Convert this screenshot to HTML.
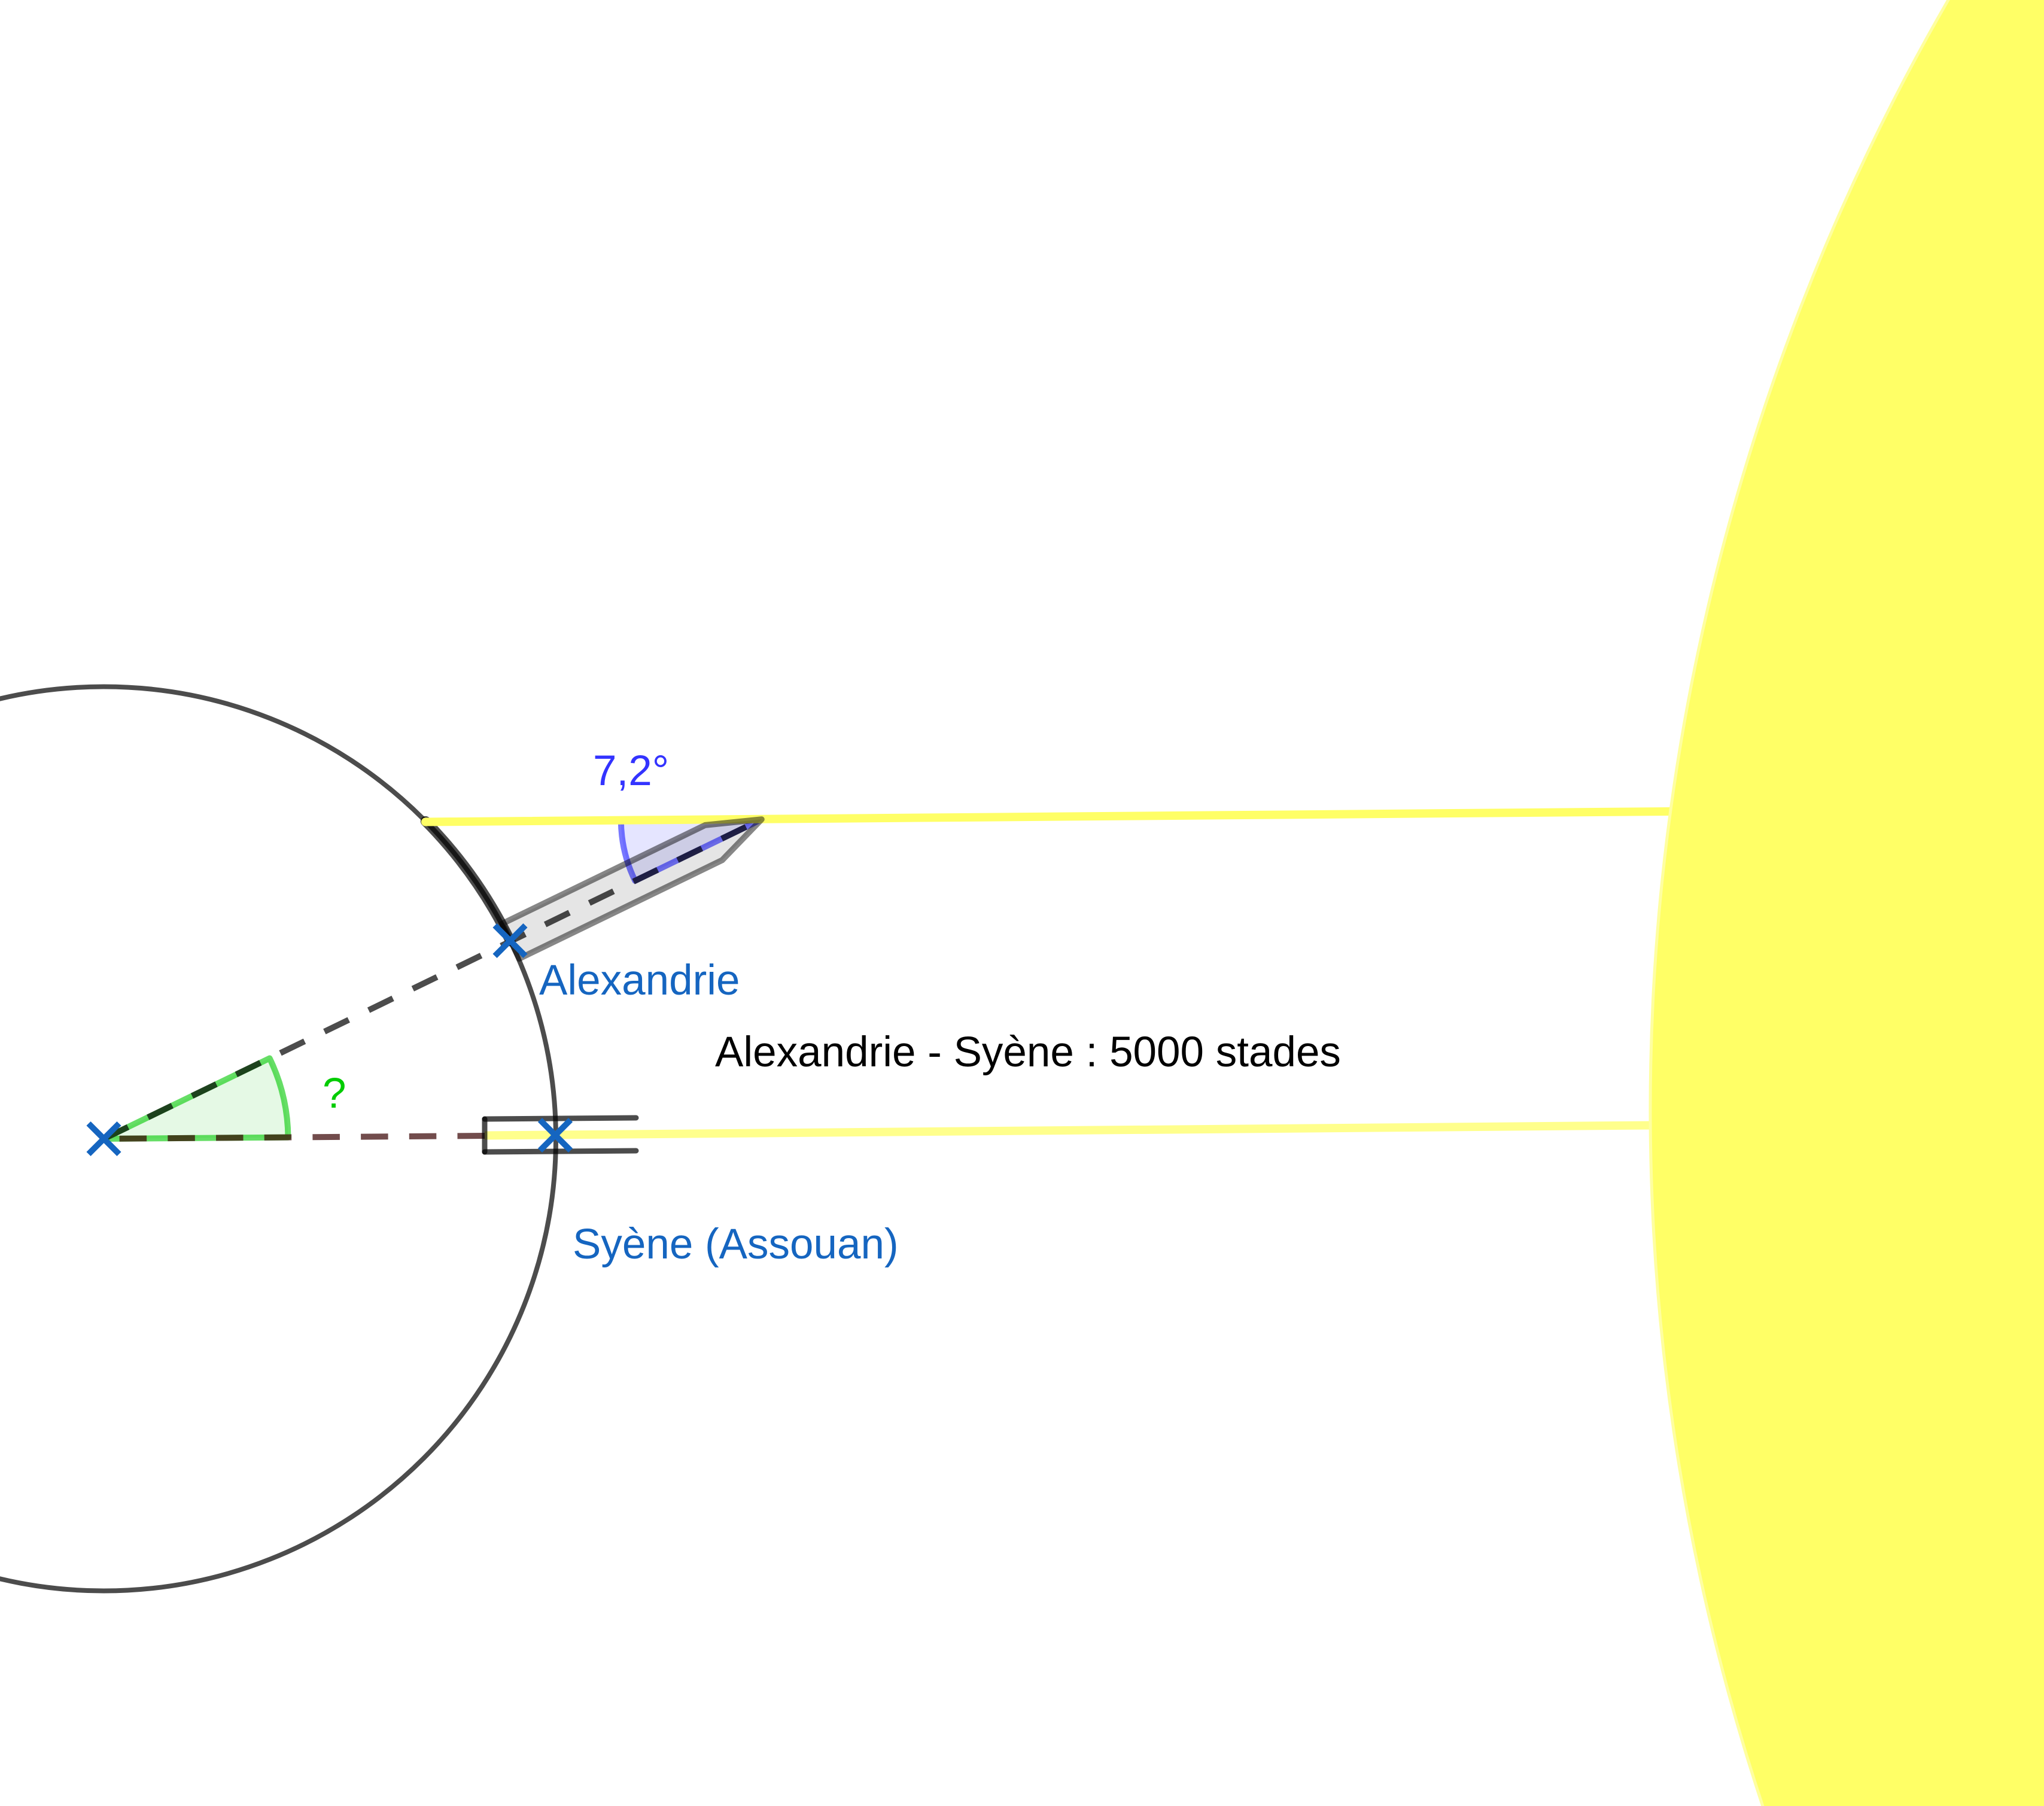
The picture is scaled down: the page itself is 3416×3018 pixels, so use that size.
<!DOCTYPE html>
<html>
<head>
<meta charset="utf-8">
<style>
  html, body { margin: 0; padding: 0; background: #ffffff; width: 3416px; height: 3018px; overflow: hidden; }
  svg { display: block; overflow: hidden; }
  text { font-family: "Liberation Sans", Arial, sans-serif; font-size: 71px; }
</style>
</head>
<body>
<svg width="3416" height="3018" viewBox="0 0 3416 3018" xmlns="http://www.w3.org/2000/svg">
  <rect x="0" y="0" width="3416" height="3018" fill="#ffffff"/>

  <!-- Earth circle -->
  <circle cx="173.5" cy="1903" r="755.5" fill="none" stroke="rgba(0,0,0,0.7)" stroke-width="8"/>

  <!-- thick arc Alexandrie distance -->
  <path d="M 711.3 1372.4 A 755.5 755.5 0 0 1 853.1 1573" fill="none" stroke="rgba(0,0,0,0.7)" stroke-width="17" stroke-linecap="round"/>

  <!-- blue angle sector (7,2°) -->
  <path d="M 1272.76 1369.23 L 1037.77 1371.26 A 235 235 0 0 0 1061.36 1471.88 Z" fill="rgba(0,0,255,0.1)" stroke="rgba(0,0,255,0.53)" stroke-width="10" stroke-linejoin="round"/>

  <!-- green angle sector (?) -->
  <path d="M 173.5 1903 L 481.5 1900.6 A 308 308 0 0 0 450.6 1768.5 Z" fill="rgba(0,200,0,0.1)" stroke="rgba(0,200,0,0.6)" stroke-width="10" stroke-linejoin="round"/>

  <!-- sun rays -->
  <line x1="711" y1="1373.5" x2="2792" y2="1356" stroke="#ffff66" stroke-width="14" stroke-linecap="round"/>
  <line x1="810" y1="1897.5" x2="2758" y2="1880.5" stroke="rgba(255,255,0,0.45)" stroke-width="14"/>

  <!-- gnomon -->
  <polygon points="839.4,1543.5 1178.5,1378.9 1272.8,1369.2 1206.9,1437.4 867.8,1602.0" fill="rgba(0,0,0,0.1)" stroke="rgba(0,0,0,0.47)" stroke-width="10" stroke-linejoin="round"/>

  <!-- dashed radial line center -> gnomon tip -->
  <line x1="173.5" y1="1903" x2="1272.8" y2="1369.2" stroke="rgba(0,0,0,0.7)" stroke-width="10" stroke-dasharray="45 37"/>

  <!-- dashed line well -> center -->
  <line x1="810" y1="1898" x2="173.5" y2="1903" stroke="rgba(54,0,0,0.7)" stroke-width="10" stroke-dasharray="45.5 35.2"/>

  <!-- well at Syene -->
  <g stroke="rgba(0,0,0,0.7)" stroke-width="9" stroke-linecap="round" fill="none">
    <line x1="810" y1="1870" x2="1063" y2="1868"/>
    <line x1="810" y1="1925" x2="1063" y2="1923"/>
    <line x1="810" y1="1870" x2="810" y2="1925"/>
  </g>

  <!-- Sun (clipped to frame) -->
  <path d="M 3253.1 0 A 3703 3703 0 0 0 2943.2 3018 L 3416 3018 L 3416 0 Z" fill="#ffffa0"/>
  <path d="M 3258.8 0 A 3698 3698 0 0 0 2948.5 3018 L 3416 3018 L 3416 0 Z" fill="#ffff66"/>

  <!-- X marks -->
  <g stroke="#1565c0" stroke-width="10" fill="none">
    <line x1="148" y1="1877.5" x2="199" y2="1928.5"/>
    <line x1="148" y1="1928.5" x2="199" y2="1877.5"/>
    <line x1="827" y1="1546.5" x2="878" y2="1597.5"/>
    <line x1="827" y1="1597.5" x2="878" y2="1546.5"/>
    <line x1="902.5" y1="1871.5" x2="953.5" y2="1922.5"/>
    <line x1="902.5" y1="1922.5" x2="953.5" y2="1871.5"/>
  </g>

  <!-- labels -->
  <text x="991" y="1312" fill="#3333ff">7,2°</text>
  <text x="539" y="1851" fill="#00cc00">?</text>
  <text x="901" y="1662" fill="#1565c0">Alexandrie</text>
  <text x="1195" y="1782" fill="#000000">Alexandrie - Syène : 5000 stades</text>
  <text x="957" y="2103" fill="#1565c0">Syène (Assouan)</text>
</svg>
</body>
</html>
